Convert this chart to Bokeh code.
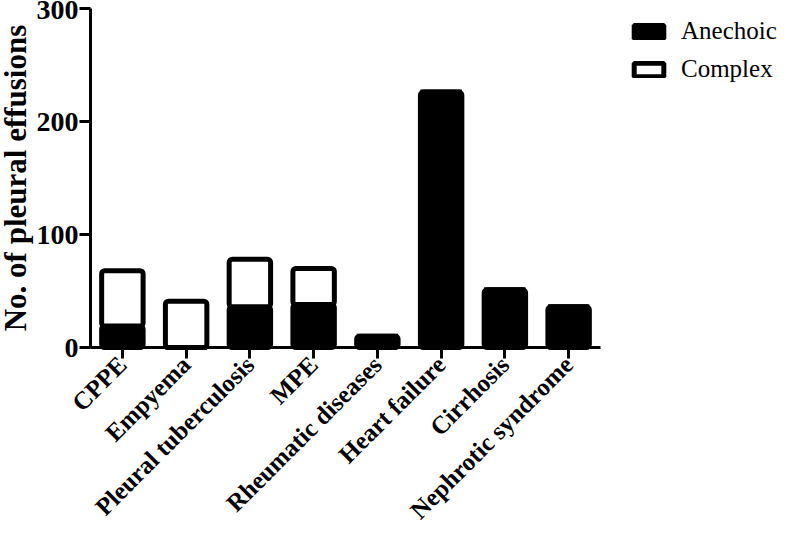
import math
from bokeh.plotting import figure
from bokeh.models import ColumnDataSource, Range1d, FixedTicker, Legend, LegendItem
from bokeh.embed import file_html
from bokeh.resources import INLINE

categories = ["CPPE", "Empyema", "Pleural tuberculosis", "MPE", "Rheumatic diseases",
              "Heart failure", "Cirrhosis", "Nephrotic syndrome"]
anechoic = [19, 0, 36, 38, 10, 226, 51, 36]
complex_ = [49, 41, 42, 32, 0, 0, 0, 0]
y_ticks = [0, 100, 200, 300]
series_names = ["Anechoic", "Complex"]

n = len(categories)
xpos = [i + 0.5 for i in range(n)]
source = ColumnDataSource(data=dict(x=xpos, cat=categories, anechoic=anechoic, complex=complex_))

FONT = "Liberation Serif"
W, H = 784, 525
X0, Y0 = 90, 347          # pixel position of the data origin
STEP = 63.75              # pixels per category
PPU = 339 / 300           # pixels per count

p = figure(x_range=Range1d(-X0 / STEP, (W - X0) / STEP),
           y_range=Range1d(-(H - Y0) / PPU, Y0 / PPU),
           width=W, height=H, output_backend="svg", toolbar_location=None,
           min_border=0)

rs = p.vbar_stack(["anechoic", "complex"], x="x", width=0.65, source=source,
                  fill_color=["black", "white"], line_color="black", line_width=5,
                  border_radius=3)

p.xgrid.visible = False
p.ygrid.visible = False
p.outline_line_color = None
p.background_fill_color = "white"
p.border_fill_color = "white"

for ax in (p.xaxis[0], p.yaxis[0]):
    ax.axis_line_width = 3
    ax.axis_line_color = "black"
    ax.major_tick_line_width = 3
    ax.major_tick_line_color = "black"
    ax.major_tick_out = 11
    ax.major_tick_in = 0
    ax.minor_tick_line_color = None
    ax.major_label_text_font = FONT
    ax.major_label_text_font_style = "bold"
    ax.major_label_text_font_size = "28px"
    ax.major_label_text_color = "black"
    ax.fixed_location = 0

p.yaxis.ticker = FixedTicker(ticks=y_ticks)
p.yaxis.bounds = (0, 300)
p.yaxis.major_label_standoff = 1
p.yaxis.axis_label = "No. of pleural effusions"
p.yaxis.axis_label_text_font = FONT
p.yaxis.axis_label_text_font_style = "bold"
p.yaxis.axis_label_text_font_size = "31px"
p.yaxis.axis_label_text_color = "black"
p.yaxis.axis_label_standoff = 1

p.xaxis.ticker = FixedTicker(ticks=xpos)
p.xaxis.major_label_overrides = {x: c for x, c in zip(xpos, categories)}
p.xaxis.bounds = (0, n)
p.xaxis.major_label_orientation = math.pi / 4
p.xaxis.major_label_standoff = 2
p.xaxis.major_label_text_font_size = "25px"

legend = Legend(items=[LegendItem(label=series_names[0], renderers=[rs[0]]),
                       LegendItem(label=series_names[1], renderers=[rs[1]])],
                location=(630, 441), orientation="vertical",
                glyph_width=37, glyph_height=17, label_height=30, spacing=8,
                label_standoff=14, padding=0, margin=0,
                border_line_color=None, background_fill_alpha=0,
                label_text_font=FONT, label_text_font_size="25px",
                label_text_color="black")
p.add_layout(legend)

open("out.html", "w").write(file_html(p, INLINE))
